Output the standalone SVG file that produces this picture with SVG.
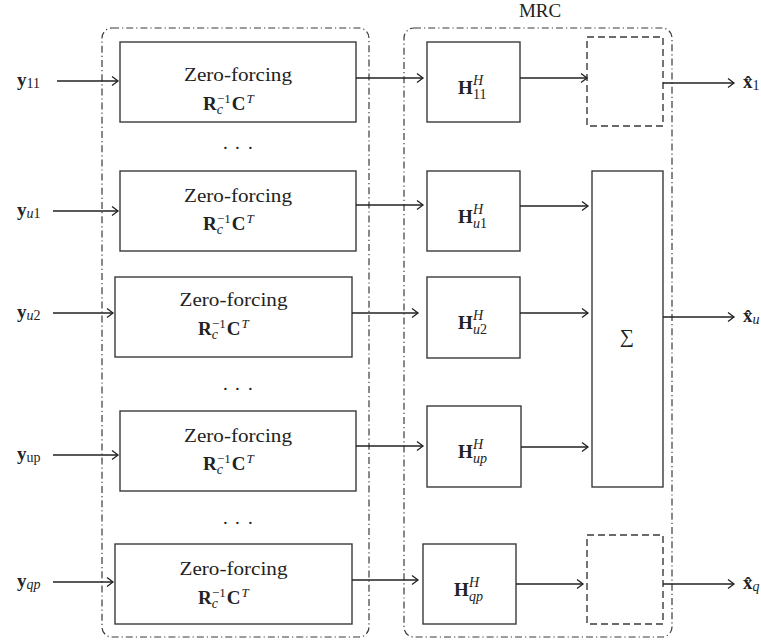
<svg xmlns="http://www.w3.org/2000/svg" width="761" height="640" viewBox="0 0 761 640">
<style>
  .bg{fill:#ffffff}
  .box{fill:none;stroke:#3a3a3a;stroke-width:1.4}
  .dbox{fill:none;stroke:#3a3a3a;stroke-width:1.4;stroke-dasharray:7 4}
  .cont{fill:none;stroke:#3a3a3a;stroke-width:1.2;stroke-dasharray:7 3 1.2 3}
  .wire{fill:none;stroke:#222;stroke-width:1.3;marker-end:url(#arr)}
  text{font-family:"Liberation Serif","Times New Roman",serif;fill:#222}
  .zf{font-size:19px}
  .m{font-size:19px}
  .b{font-weight:bold}
  .i{font-style:italic}
  .s{font-size:14px}
  .s2{font-size:14px}
  .s3{font-size:13px}
</style>
<defs>
  <marker id="arr" markerUnits="userSpaceOnUse" markerWidth="12" markerHeight="12" refX="10" refY="6" orient="auto">
    <path d="M4,1.5 L10,6 L4,10.5" fill="none" stroke="#222" stroke-width="1.3"/>
  </marker>
</defs>
<rect class="bg" x="0" y="0" width="761" height="640"/>

<g id="containers">
  <rect id="zf-group" class="cont" x="102" y="28" width="267" height="609" rx="10"/>
  <rect id="mrc-group" class="cont" x="404" y="28" width="268" height="609" rx="10"/>
  <text x="540" y="17" text-anchor="middle" class="m">MRC</text>
</g>

<g id="inputs">
  <text x="17" y="86"><tspan class="b m">y</tspan><tspan class="s" dy="2">11</tspan></text>
  <text x="17" y="216"><tspan class="b m">y</tspan><tspan class="s i" dy="2">u</tspan><tspan class="s">1</tspan></text>
  <text x="17" y="318"><tspan class="b m">y</tspan><tspan class="s i" dy="2">u</tspan><tspan class="s">2</tspan></text>
  <text x="17" y="460"><tspan class="b m">y</tspan><tspan class="s" dy="2">up</tspan></text>
  <text x="17" y="587"><tspan class="b m">y</tspan><tspan class="s i" dy="2">qp</tspan></text>
</g>

<g id="zf1">
  <rect class="box" x="120" y="42" width="236" height="80"/>
  <text class="zf" x="238" y="81" text-anchor="middle" textLength="108" lengthAdjust="spacingAndGlyphs">Zero-forcing</text>
  <text x="203" y="110"><tspan class="b m">R</tspan><tspan class="i s2" dy="4">c</tspan><tspan class="s3" dx="-6" dy="-11">−1</tspan><tspan class="b m" dx="1" dy="7">C</tspan><tspan class="i s3" dx="1" dy="-7">T</tspan></text>
</g>
<g id="zf2">
  <rect class="box" x="120" y="171" width="236" height="80"/>
  <text class="zf" x="238" y="202" text-anchor="middle" textLength="108" lengthAdjust="spacingAndGlyphs">Zero-forcing</text>
  <text x="203" y="230"><tspan class="b m">R</tspan><tspan class="i s2" dy="4">c</tspan><tspan class="s3" dx="-6" dy="-11">−1</tspan><tspan class="b m" dx="1" dy="7">C</tspan><tspan class="i s3" dx="1" dy="-7">T</tspan></text>
</g>
<g id="zf3">
  <rect class="box" x="115" y="277" width="237" height="80"/>
  <text class="zf" x="233.5" y="306" text-anchor="middle" textLength="108" lengthAdjust="spacingAndGlyphs">Zero-forcing</text>
  <text x="198" y="335"><tspan class="b m">R</tspan><tspan class="i s2" dy="4">c</tspan><tspan class="s3" dx="-6" dy="-11">−1</tspan><tspan class="b m" dx="1" dy="7">C</tspan><tspan class="i s3" dx="1" dy="-7">T</tspan></text>
</g>
<g id="zf4">
  <rect class="box" x="120" y="411" width="236" height="80"/>
  <text class="zf" x="238" y="442" text-anchor="middle" textLength="108" lengthAdjust="spacingAndGlyphs">Zero-forcing</text>
  <text x="203" y="470"><tspan class="b m">R</tspan><tspan class="i s2" dy="4">c</tspan><tspan class="s3" dx="-6" dy="-11">−1</tspan><tspan class="b m" dx="1" dy="7">C</tspan><tspan class="i s3" dx="1" dy="-7">T</tspan></text>
</g>
<g id="zf5">
  <rect class="box" x="115" y="544" width="237" height="80"/>
  <text class="zf" x="233.5" y="575" text-anchor="middle" textLength="108" lengthAdjust="spacingAndGlyphs">Zero-forcing</text>
  <text x="198" y="604"><tspan class="b m">R</tspan><tspan class="i s2" dy="4">c</tspan><tspan class="s3" dx="-6" dy="-11">−1</tspan><tspan class="b m" dx="1" dy="7">C</tspan><tspan class="i s3" dx="1" dy="-7">T</tspan></text>
</g>

<g id="dots">
  <text class="m" x="223 235 248" y="149">...</text>
  <text class="m" x="223 235 248" y="390">...</text>
  <text class="m" x="223 235 248" y="524">...</text>
</g>

<g id="h11">
  <rect class="box" x="427" y="42" width="93" height="80"/>
  <text class="b m" x="458" y="94">H</text>
  <text class="i s2" x="473" y="85">H</text>
  <text class="s2" x="473" y="99">11</text>
</g>
<g id="hu1">
  <rect class="box" x="427" y="171" width="93" height="80"/>
  <text class="b m" x="458" y="223">H</text>
  <text class="i s2" x="473" y="214">H</text>
  <text class="s2" x="473" y="228"><tspan class="i">u</tspan>1</text>
</g>
<g id="hu2">
  <rect class="box" x="427" y="277" width="93" height="81"/>
  <text class="b m" x="458" y="329">H</text>
  <text class="i s2" x="473" y="320">H</text>
  <text class="s2" x="473" y="334"><tspan class="i">u</tspan>2</text>
</g>
<g id="hup">
  <rect class="box" x="427" y="406" width="94" height="81"/>
  <text class="b m" x="458" y="458">H</text>
  <text class="i s2" x="473" y="449">H</text>
  <text class="i s2" x="473" y="463">up</text>
</g>
<g id="hqp">
  <rect class="box" x="423" y="544" width="93" height="80"/>
  <text class="b m" x="454" y="596">H</text>
  <text class="i s2" x="469" y="587">H</text>
  <text class="i s2" x="469" y="601">qp</text>
</g>

<g id="comb1">
  <rect class="dbox" x="587" y="37" width="76" height="89"/>
</g>
<g id="sum">
  <rect class="box" x="592" y="171" width="71" height="316"/>
  <text x="627" y="343" text-anchor="middle" style="font-size:20px">∑</text>
</g>
<g id="combq">
  <rect class="dbox" x="587" y="535" width="76" height="89"/>
</g>

<g id="outputs">
  <text x="743" y="88"><tspan class="b m">x̂</tspan><tspan class="s" dy="2">1</tspan></text>
  <text x="743" y="322"><tspan class="b m">x̂</tspan><tspan class="s i" dy="2">u</tspan></text>
  <text x="743" y="589"><tspan class="b m">x̂</tspan><tspan class="s i" dy="2">q</tspan></text>
</g>

<g id="connectors">
  <line class="wire" x1="57" y1="81" x2="118" y2="81"/>
  <line class="wire" x1="53" y1="211" x2="118" y2="211"/>
  <line class="wire" x1="53" y1="313" x2="113" y2="313"/>
  <line class="wire" x1="53" y1="455" x2="118" y2="455"/>
  <line class="wire" x1="53" y1="582" x2="113" y2="582"/>

  <line class="wire" x1="356" y1="78" x2="423" y2="78"/>
  <line class="wire" x1="356" y1="205" x2="423" y2="205"/>
  <line class="wire" x1="352" y1="313" x2="418" y2="313"/>
  <line class="wire" x1="356" y1="446" x2="423" y2="446"/>
  <line class="wire" x1="352" y1="580" x2="418" y2="580"/>

  <line class="wire" x1="520" y1="78" x2="587" y2="78"/>
  <line class="wire" x1="520" y1="206" x2="588" y2="206"/>
  <line class="wire" x1="520" y1="313" x2="588" y2="313"/>
  <line class="wire" x1="521" y1="447" x2="588" y2="447"/>
  <line class="wire" x1="516" y1="584" x2="583" y2="584"/>

  <line class="wire" x1="663" y1="83" x2="734" y2="83"/>
  <line class="wire" x1="663" y1="317" x2="734" y2="317"/>
  <line class="wire" x1="663" y1="584" x2="734" y2="584"/>
</g>
</svg>
